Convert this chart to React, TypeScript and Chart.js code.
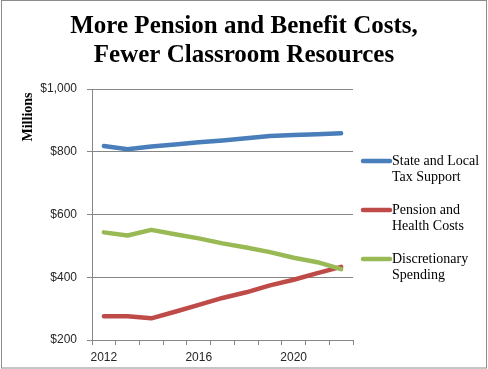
import React, { useEffect, useRef } from "react";
import { Chart, registerables } from "chart.js";

Chart.register(...registerables);

const years = ["2012", "2013", "2014", "2015", "2016", "2017", "2018", "2019", "2020", "2021", "2022"];
const taxSupport = [818, 808, 817, 823, 830, 836, 843, 850, 853, 856, 859];
const pensionHealth = [276, 276, 269, 290, 312, 334, 352, 374, 392, 413, 433];
const discretionary = [543, 533, 551, 537, 524, 508, 495, 480, 462, 448, 426];
const titleLines = ["More Pension and Benefit Costs,", "Fewer Classroom Resources"];
const seriesNames = [
  ["State and Local", "Tax Support"],
  ["Pension and", "Health Costs"],
  ["Discretionary", "Spending"],
];
const colors = ["#4A7EBB", "#BE4B48", "#98B954"];

const decorPlugin = {
  id: "decor",
  afterDraw(chart: any) {
    const ctx = chart.ctx;
    ctx.save();
    // outer border
    ctx.strokeStyle = "#8c8c8c";
    ctx.lineWidth = 1;
    ctx.strokeRect(1.5, 0.5, 485, 367.5);
    // title
    ctx.fillStyle = "#000";
    ctx.font = "bold 25px 'Liberation Serif'";
    ctx.textAlign = "center";
    ctx.textBaseline = "alphabetic";
    ctx.fillText(titleLines[0], 244, 33);
    ctx.fillText(titleLines[1], 244, 62);
    // y axis title
    ctx.save();
    ctx.translate(28, 117);
    ctx.rotate(-Math.PI / 2);
    ctx.font = "bold 14px 'Liberation Serif'";
    ctx.textBaseline = "middle";
    ctx.fillText("Millions", 0, 0);
    ctx.restore();
    // legend
    const startY = [161, 210, 259];
    ctx.textAlign = "left";
    ctx.textBaseline = "middle";
    ctx.font = "14px 'Liberation Serif'";
    seriesNames.forEach((lines, i) => {
      const y = startY[i];
      ctx.strokeStyle = colors[i];
      ctx.lineWidth = 4.5;
      ctx.lineCap = "round";
      ctx.beginPath();
      ctx.moveTo(363, y);
      ctx.lineTo(390, y);
      ctx.stroke();
      ctx.fillStyle = "#000";
      lines.forEach((t, j) => ctx.fillText(t, 392, y + j * 16));
    });
    ctx.restore();
  },
};

export default function App() {
  const ref = useRef<HTMLCanvasElement>(null);
  useEffect(() => {
    if (!ref.current) return;
    const mk = (label: string, data: number[], i: number, order: number) => ({
      label,
      data,
      borderColor: colors[i],
      backgroundColor: colors[i],
      borderWidth: 4.5,
      pointRadius: 0,
      tension: 0,
      borderCapStyle: "round" as const,
      borderJoinStyle: "round" as const,
      order,
    });
    const chart = new Chart(ref.current, {
      type: "line",
      data: {
        labels: years,
        datasets: [
          mk(seriesNames[0].join(" "), taxSupport, 0, 2),
          mk(seriesNames[1].join(" "), pensionHealth, 1, 1),
          mk(seriesNames[2].join(" "), discretionary, 2, 0),
        ],
      },
      options: {
        responsive: false,
        animation: false,
        layout: { padding: { left: 0, top: 89, right: 135, bottom: 0 } },
        plugins: { legend: { display: false }, title: { display: false }, tooltip: { enabled: false } },
        scales: {
          x: {
            type: "category",
            offset: true,
            afterFit: (s: any) => { s.height = 29; },
            grid: { offset: true, drawOnChartArea: false, drawTicks: true, tickLength: 5, color: "#868686" },
            border: { color: "#868686", width: 1 },
            ticks: {
              autoSkip: false,
              maxRotation: 0,
              padding: 5,
              color: "#262626",
              font: { family: "'Liberation Sans'", size: 12 },
              callback: (_v: any, i: number) => (i % 4 === 0 ? years[i] : ""),
            },
          },
          y: {
            min: 200,
            max: 1000,
            afterFit: (s: any) => { s.width = 92; },
            grid: { color: "#868686", tickLength: 5 },
            border: { color: "#868686", width: 1 },
            ticks: {
              stepSize: 200,
              padding: 10,
              color: "#262626",
              font: { family: "'Liberation Sans'", size: 12 },
              callback: (v: any) => "$" + Number(v).toLocaleString("en-US"),
            },
          },
        },
      },
      plugins: [decorPlugin],
    });
    return () => chart.destroy();
  }, []);
  return (
    <div style={{ position: "absolute", left: 0, top: 0, width: 488, height: 369, background: "#fff" }}>
      <canvas ref={ref} width={488} height={369} style={{ display: "block" }} />
    </div>
  );
}
